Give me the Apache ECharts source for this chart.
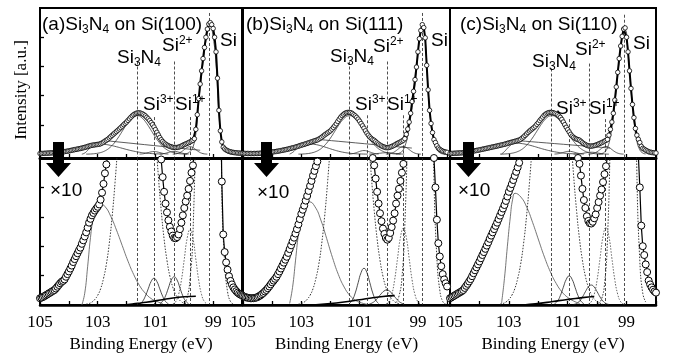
<!DOCTYPE html>
<html><head><meta charset="utf-8">
<script src="https://cdn.jsdelivr.net/npm/echarts@6/dist/echarts.min.js"></script>
<style>html,body{margin:0;padding:0;background:#fff}#c{width:673px;height:356px}</style>
</head><body><div id="c"></div>
<script>
// Binding energy grid (eV)
const energy = [105,104.95,104.9,104.85,104.8,104.75,104.7,104.65,104.6,104.55,
104.5,104.45,104.4,104.35,104.3,104.25,104.2,104.15,104.1,104.05,
104,103.95,103.9,103.85,103.8,103.75,103.7,103.65,103.6,103.55,
103.5,103.45,103.4,103.35,103.3,103.25,103.2,103.15,103.1,103.05,
103,102.95,102.9,102.85,102.8,102.75,102.7,102.65,102.6,102.55,
102.5,102.45,102.4,102.35,102.3,102.25,102.2,102.15,102.1,102.05,
102,101.95,101.9,101.85,101.8,101.75,101.7,101.65,101.6,101.55,
101.5,101.45,101.4,101.35,101.3,101.25,101.2,101.15,101.1,101.05,
101,100.95,100.9,100.85,100.8,100.75,100.7,100.65,100.6,100.55,
100.5,100.45,100.4,100.35,100.3,100.25,100.2,100.15,100.1,100.05,
100,99.95,99.9,99.85,99.8,99.75,99.7,99.65,99.6,99.55,
99.5,99.45,99.4,99.35,99.3,99.25,99.2,99.15,99.1,99.05,
99,98.95,98.9,98.85,98.8,98.75,98.7,98.65,98.6,98.55,
98.5,98.45,98.4,98.35,98.3,98.25,98.2,98.15,98.1,98.05,
98];

// measured intensity (a.u., x10 units: lower panel shows 0-5, upper 0-50)
const a_int = [0.23,0.25,0.27,0.30,0.33,0.36,0.39,0.42,0.45,0.48,
0.51,0.56,0.62,0.68,0.74,0.79,0.82,0.87,0.96,1.05,
1.14,1.24,1.34,1.46,1.56,1.66,1.76,1.86,1.95,2.08,
2.20,2.33,2.47,2.63,2.80,2.93,3.05,3.13,3.21,3.28,
3.34,3.42,3.58,3.82,4.12,4.48,4.78,5.10,5.55,6.00,
6.45,6.90,7.30,7.75,8.20,8.65,9.10,9.60,10.1,10.55,
11.0,11.55,12.1,12.65,13.15,13.55,13.85,14.05,14.15,14.15,
14.0,13.8,13.5,13.1,12.6,12.1,11.5,10.8,10.1,9.3,
8.4,7.5,6.6,5.7,4.95,4.35,3.85,3.45,3.15,2.88,
2.66,2.50,2.36,2.28,2.27,2.31,2.40,2.58,2.80,3.05,
3.30,3.52,3.72,3.95,4.22,4.50,4.75,5.30,8.5,13.5,
19,24,28.5,32.7,36.5,40,42.8,44.5,45,44.3,
43,40,35,26,15,8,4.2,2.4,1.8,1.45,
1.2,0.98,0.82,0.70,0.60,0.53,0.47,0.42,0.38,0.35,
0.33];
const b_int = [0.30,0.28,0.26,0.25,0.24,0.23,0.23,0.23,0.24,0.25,
0.27,0.30,0.33,0.37,0.41,0.46,0.51,0.57,0.63,0.70,
0.77,0.83,0.89,0.96,1.05,1.14,1.24,1.34,1.44,1.54,
1.64,1.77,1.90,2.03,2.16,2.29,2.43,2.58,2.74,2.92,
3.10,3.24,3.38,3.55,3.71,3.88,4.05,4.22,4.40,4.56,
4.72,4.88,5.15,5.45,5.8,6.2,6.6,6.95,7.3,7.65,
8.0,8.55,9.15,9.75,10.4,11.2,11.95,12.65,13.2,13.65,
14.0,14.2,14.3,14.3,14.2,13.9,13.5,13.1,12.6,12.0,
11.3,10.5,9.7,8.9,8.0,7.2,6.5,5.9,5.4,5.0,
4.75,4.3,3.85,3.45,3.12,2.85,2.6,2.42,2.28,2.22,
2.28,2.45,2.65,2.87,3.12,3.45,3.72,3.95,4.22,4.5,
4.8,5.3,6.8,8.6,11.0,14.0,18.0,21.5,25.5,29.8,
35.0,39.5,42.3,44.3,43.3,39.8,30.4,22.0,15.0,10.5,
7.4,5.0,4.0,2.9,2.1,1.65,1.32,1.05,0.87,0.74,
0.63];
const c_int = [0.23,0.26,0.29,0.32,0.35,0.38,0.41,0.44,0.47,0.51,
0.58,0.65,0.72,0.80,0.88,0.98,1.08,1.18,1.28,1.38,
1.48,1.59,1.70,1.80,1.91,2.02,2.13,2.25,2.36,2.47,
2.58,2.69,2.80,2.92,3.04,3.16,3.28,3.40,3.54,3.69,
3.85,3.98,4.11,4.25,4.39,4.53,4.68,4.84,5.1,5.5,
5.9,6.4,6.9,7.4,7.9,8.3,8.7,9.1,9.6,10.2,
10.8,11.5,12.1,12.7,13.3,13.7,14.0,14.2,14.3,14.3,
14.2,14.0,13.8,13.5,13.1,12.6,11.9,11.0,10.1,9.2,
8.4,7.6,6.8,6.2,5.75,5.4,5.15,5.0,4.8,4.4,
3.95,3.57,3.3,3.02,2.86,2.78,2.77,2.83,2.95,3.08,
3.3,3.5,3.72,3.93,4.18,4.45,4.72,5.05,6.5,8.5,
11,14,18.5,23,28,32.7,37,40.3,42.8,43.2,
40,35,28.5,22.5,17,12.5,8.8,6.5,5.1,4.0,
2.7,2.0,1.7,1.38,1.12,0.83,0.7,0.6,0.52,0.46,
0.42];

// fitted components [eV, intensity]
const a_N = [[103.4,.03],[103.3,.05],[103.2,.10],[103.1,.19],[103.0,.33],[102.9,.55],[102.8,.9],[102.7,1.39],[102.6,2.09],[102.5,3.01],[102.4,4.16],[102.3,5.52],[102.2,7.05],[102.1,8.65],[102.0,10.19],[101.9,11.53],[101.8,12.54],[101.7,13.1],[101.6,13.16],[101.5,12.7],[101.4,11.77],[101.3,10.48],[101.2,8.96],[101.1,7.37],[101.0,5.82],[100.9,4.41],[100.8,3.22],[100.7,2.25],[100.6,1.52],[100.5,.98],[100.4,.61],[100.3,.36],[100.2,.21],[100.1,.11],[100.0,.06],[99.9,.03]];
const b_N = [[103.1,.03],[103.0,.05],[102.9,.10],[102.8,.19],[102.7,.33],[102.6,.55],[102.5,.9],[102.4,1.39],[102.3,2.09],[102.2,3.01],[102.1,4.16],[102.0,5.52],[101.9,7.05],[101.8,8.65],[101.7,10.19],[101.6,11.53],[101.5,12.54],[101.4,13.1],[101.3,13.16],[101.2,12.7],[101.1,11.77],[101.0,10.48],[100.9,8.96],[100.8,7.37],[100.7,5.82],[100.6,4.41],[100.5,3.22],[100.4,2.25],[100.3,1.52],[100.2,.98],[100.1,.61],[100.0,.36],[99.9,.21],[99.8,.11],[99.7,.06],[99.6,.03]];
const c_N = [[103.3,.03],[103.2,.05],[103.1,.10],[103.0,.19],[102.9,.33],[102.8,.55],[102.7,.9],[102.6,1.39],[102.5,2.09],[102.4,3.01],[102.3,4.16],[102.2,5.52],[102.1,7.05],[102.0,8.65],[101.9,10.19],[101.8,11.53],[101.7,12.54],[101.6,13.1],[101.5,13.16],[101.4,12.7],[101.3,11.77],[101.2,10.48],[101.1,8.96],[101.0,7.37],[100.9,5.82],[100.8,4.41],[100.7,3.22],[100.6,2.25],[100.5,1.52],[100.4,.98],[100.3,.61],[100.2,.36],[100.1,.21],[100.0,.11],[99.9,.06],[99.8,.03]];
const a_C = [[103.55,0],[103.45,.4],[103.35,1.3],[103.25,2.3],[103.15,3.0],[103.05,3.35],[102.95,3.46],[102.75,3.35],[102.55,3.02],[102.35,2.55],[102.15,2.02],[101.95,1.49],[101.75,1.03],[101.55,.66],[101.35,.40],[101.15,.22],[100.95,.12],[100.75,.05]];
const b_C = [[103.4,.05],[103.3,.6],[103.2,1.5],[103.1,2.4],[103.0,3.0],[102.9,3.35],[102.8,3.49],[102.73,3.51],[102.53,3.34],[102.33,2.89],[102.13,2.26],[101.93,1.61],[101.73,1.04],[101.53,.61],[101.33,.32],[101.13,.15],[100.93,.07],[100.73,.02]];
const c_C = [[103.25,.05],[103.15,.9],[103.05,2.0],[102.95,3.0],[102.87,3.6],[102.79,3.8],[102.59,3.67],[102.39,3.32],[102.19,2.80],[101.99,2.21],[101.79,1.63],[101.59,1.13],[101.39,.73],[101.19,.44],[100.99,.25],[100.79,.13],[100.59,.05]];
const a_3 = [[101.55,.04],[101.45,.12],[101.35,.30],[101.25,.55],[101.15,.80],[101.05,.91],[100.95,.80],[100.85,.55],[100.75,.30],[100.65,.12],[100.55,.04]];
const b_3 = [[101.35,.05],[101.25,.17],[101.15,.41],[101.05,.76],[100.95,1.10],[100.85,1.25],[100.75,1.10],[100.65,.76],[100.55,.41],[100.45,.17],[100.35,.05]];
const c_3 = [[101.45,.04],[101.35,.13],[101.25,.32],[101.15,.60],[101.05,.87],[100.95,.99],[100.85,.87],[100.75,.60],[100.65,.32],[100.55,.13],[100.45,.04]];
const a_2 = [[100.85,.04],[100.75,.13],[100.65,.31],[100.55,.58],[100.45,.85],[100.35,.96],[100.25,.85],[100.15,.58],[100.05,.31],[99.95,.13],[99.85,.04]];
const b_2 = [[100.67,.03],[100.57,.07],[100.47,.14],[100.37,.25],[100.27,.37],[100.17,.47],[100.07,.51],[99.97,.47],[99.87,.37],[99.77,.25],[99.67,.14],[99.57,.07],[99.47,.03]];
const c_2 = [[100.8,.02],[100.7,.05],[100.6,.13],[100.5,.27],[100.4,.45],[100.3,.61],[100.2,.68],[100.1,.61],[100.0,.45],[99.9,.27],[99.8,.13],[99.7,.05],[99.6,.02]];
const a_1 = [[100.4,.03],[100.3,.11],[100.2,.35],[100.1,.84],[100.0,1.56],[99.9,2.27],[99.8,2.57],[99.7,2.27],[99.6,1.56],[99.5,.84],[99.4,.35],[99.3,.11],[99.2,.03]];
const b_1 = [[100.1,.03],[100.0,.11],[99.9,.35],[99.8,.85],[99.7,1.58],[99.6,2.30],[99.5,2.61],[99.4,2.30],[99.3,1.58],[99.2,.85],[99.1,.35],[99.0,.11],[98.9,.03]];
const c_1 = [[100.3,.03],[100.2,.11],[100.1,.36],[100.0,.86],[99.9,1.60],[99.8,2.33],[99.7,2.64],[99.6,2.33],[99.5,1.60],[99.4,.86],[99.3,.36],[99.2,.11],[99.1,.03]];
const a_0 = [[100.0,.06],[99.9,.25],[99.8,.9],[99.7,2.4],[99.6,7],[99.5,18],[99.4,27],[99.3,35],[99.2,41.5],[99.1,44],[99.0,40],[98.9,31],[98.8,14],[98.7,4],[98.6,1.4],[98.5,.45],[98.4,.12],[98.3,.03]];
const b_0 = [[99.75,.08],[99.65,.3],[99.55,.9],[99.45,2.7],[99.35,6.3],[99.25,12.5],[99.15,19.5],[99.05,28.5],[98.95,39],[98.85,44],[98.75,39],[98.65,21.5],[98.55,10],[98.45,4.3],[98.35,1.6],[98.25,.5],[98.15,.12],[98.05,.03]];
const c_0 = [[99.95,.05],[99.85,.2],[99.75,.7],[99.65,2.2],[99.55,6],[99.45,12.5],[99.35,22],[99.25,32],[99.15,40],[99.05,42.5],[98.95,35],[98.85,22],[98.75,11.5],[98.65,4.5],[98.55,1.5],[98.45,.4],[98.35,.1]];
const a_bg = [[102.1,0],[101.8,.03],[101.5,.07],[101.0,.14],[100.5,.22],[100.0,.28],[99.6,.3]];
const b_bg = [[102.6,0],[102.2,.03],[101.8,.07],[101.4,.12],[101.0,.18],[100.6,.24],[100.2,.29],[99.8,.32]];
const c_bg = [[102.5,0],[102.1,.04],[101.7,.09],[101.3,.15],[100.9,.2],[100.5,.25],[100.1,.29]];
const a_line = [[102.7,4.6],[99.45,1.35]];
const b_line = [[102.47,5.1],[99.21,2.1]];
const c_line = [[102.73,4.67],[99.56,2.1]];

// peak positions (Si3N4, Si3+, Si2+, Si1+, Si) and upper-panel marker heights
const a_pos = [101.64,101.05,100.36,99.8,99.13];
const b_pos = [101.35,100.74,100.05,99.5,98.85];
const c_pos = [101.57,100.95,100.27,99.72,99.09];
const a_hTop = [31.7,12.7,31.7,12.7,48.3];
const b_hTop = [31.7,13.3,31.7,13.3,48.3];
const c_hTop = [29.3,12,31,12,47.7];

const titles = ['(a)','(b)','(c)'];
const substrates = ['Si(100)','Si(111)','Si(110)'];
const xTicks = [98,99,100,101,102,103,104,105];
const xLabels = [99,101,103,105];
const yTicksTop = [10,20,30,40];
const yTicksBottom = [1,2,3,4];

const P = [
 {int:a_int,N:a_N,C:a_C,s3:a_3,s2:a_2,s1:a_1,s0:a_0,bg:a_bg,ln:a_line,pos:a_pos,hTop:a_hTop,xmin:98,left:40,width:202},
 {int:b_int,N:b_N,C:b_C,s3:b_3,s2:b_2,s1:b_1,s0:b_0,bg:b_bg,ln:b_line,pos:b_pos,hTop:b_hTop,xmin:97.9,left:243,width:207},
 {int:c_int,N:c_N,C:c_C,s3:c_3,s2:c_2,s1:c_1,s0:c_0,bg:c_bg,ln:c_line,pos:c_pos,hTop:c_hTop,xmin:98,left:450,width:206}
];

const grids=[], xAxes=[], yAxes=[], series=[];
[0,1].forEach(row=>{
  P.forEach((p,k)=>{
    const top = row===0;
    grids.push({left:p.left, width:p.width, top: top?8:158, height: top?150:147, show:true, borderColor:'#000', borderWidth:2, containLabel:false});
    const gi = grids.length-1;
    xAxes.push({type:'value', gridIndex:gi, min:p.xmin, max:105, inverse:true,
      axisLine:{show:true, onZero:false, lineStyle:{color:'#000', width:top?3:2.5}},
      axisTick:{show:true, inside:true, length:4, customValues:xTicks.filter(v=>v>=p.xmin), lineStyle:{color:'#000', width:1.3}},
      axisLabel:{show:!top, customValues:xLabels, margin:9, color:'#000', fontFamily:'Liberation Serif', fontSize:17},
      splitLine:{show:false},
      name: top?'':'Binding Energy (eV)', nameLocation:'middle', nameGap:31,
      nameTextStyle:{color:'#000', fontFamily:'Liberation Serif', fontSize:17}
    });
    yAxes.push({type:'value', gridIndex:gi, min: top?-1.3:0, max: top?50:5,
      axisLine:{show:true, onZero:false, lineStyle:{color:'#000', width:2}},
      axisTick:{show:k===0, inside:true, length:4, customValues: top?yTicksTop:yTicksBottom, lineStyle:{color:'#000', width:1.3}},
      axisLabel:{show:false}, splitLine:{show:false}
    });
    const thin=(data, style, z)=>({type:'line', xAxisIndex:gi, yAxisIndex:gi, data, smooth:true, symbol:'none', showSymbol:false, lineStyle:style, z:z||2, silent:true, clip:true});
    if(top){
      const st={color:'#333', width:0.8};
      [p.N,p.C,p.s3,p.s2,p.s1,p.s0].forEach(d=>series.push(thin(d,st)));
      series.push(thin(p.ln,{color:'#333', width:0.8}));
    } else {
      series.push(thin(p.C,{color:'#666', width:0.9}));
      series.push(thin(p.N,{color:'#222', width:0.9, type:[1.5,1.5]}));
      series.push(thin(p.s0,{color:'#222', width:0.9, type:[1.5,1.5]}));
      series.push(thin(p.s3,{color:'#222', width:0.8}));
      series.push(thin(p.s2,{color:'#222', width:0.8}));
      series.push(thin(p.s1,{color:'#555', width:0.9, type:[1.5,1.5]}));
      series.push(thin(p.bg,{color:'#000', width:1.6},3));
    }
    // dashed peak-position markers
    series.push({type:'line', xAxisIndex:gi, yAxisIndex:gi, data:[], silent:true, z:1,
      markLine:{silent:true, symbol:['none','none'], label:{show:false}, animation:false,
        lineStyle:{color:'#222', width:0.8, type:[3,2]},
        data: p.pos.map((e,i)=>[{coord:[e, top?p.hTop[i]:5]},{coord:[e, top?-1.3:0]}])}
    });
    // measured spectrum
    series.push({type:'line', xAxisIndex:gi, yAxisIndex:gi, data: energy.map((e,i)=>[e,p.int[i]]),
      symbol:'circle', symbolSize: top?4.5:7, showAllSymbol:true, clip:true, z:5, silent:true,
      itemStyle:{color:'#fff', borderColor:'#000', borderWidth: top?0.8:1},
      lineStyle:{color:'#000', width: top?2:1.2}
    });
  });
});

const rich = {
  m:{fontSize:19, fontFamily:'Liberation Sans', lineHeight:22, fill:'#000', color:'#000'},
  s:{fontSize:12, fontFamily:'Liberation Sans', lineHeight:12, verticalAlign:'bottom', fill:'#000', color:'#000'},
  p:{fontSize:12, fontFamily:'Liberation Sans', lineHeight:12, verticalAlign:'top', fill:'#000', color:'#000'}
};
function rtext(x,y,text){
  return {type:'text', x:x, y:y, z:100, silent:true,
    style:{text:text, rich:rich, align:'left', verticalAlign:'top', fill:'#000', font:'19px "Liberation Sans"'}};
}
const labelText = ['{m|Si}{s|3}{m|N}{s|4}','{m|Si}{p|3+}','{m|Si}{p|2+}','{m|Si}{p|1+}','{m|Si}'];
const titleX = [42,246,460];
const labelXY = [
  [[117,46.5],[143,94],[162,35],[175,94],[220,30]],
  [[330,45.5],[355,94],[373,35.5],[387,94],[431,30]],
  [[532,50.5],[556,97.5],[575,38.5],[589,97.5],[633,32.5]]
];
const arrowX = [58.5,266.5,468.5];
const tenXY = [[50,191],[257,193],[458,191]];
const graphic = [];
P.forEach((p,k)=>{
  graphic.push(rtext(titleX[k],13.5,'{m|'+titles[k]+'Si}{s|3}{m|N}{s|4}{m| on '+substrates[k]+'}'));
  labelXY[k].forEach((xy,i)=>graphic.push(rtext(xy[0],xy[1],labelText[i])));
  const cx = arrowX[k];
  graphic.push({type:'polygon', z:100, silent:true,
    shape:{points:[[cx-5.5,142],[cx+5.5,142],[cx+5.5,163],[cx+12.5,163],[cx,177],[cx-12.5,163],[cx-5.5,163]]},
    style:{fill:'#000'}});
  graphic.push({type:'text', x:tenXY[k][0], y:tenXY[k][1], z:100, silent:true,
    style:{text:'\u00d710', font:'19px "Liberation Sans"', fill:'#000', align:'left', verticalAlign:'middle'}});
});
graphic.push({type:'text', x:22, y:90, rotation:Math.PI/2, z:100, silent:true,
  style:{text:'Intensity [a.u.]', font:'17px "Liberation Serif"', fill:'#000', align:'center', verticalAlign:'middle'}});

const chart = echarts.init(document.getElementById('c'), null, {renderer:'canvas'});
chart.setOption({animation:false, backgroundColor:'#fff', grid:grids, xAxis:xAxes, yAxis:yAxes, series:series, graphic:graphic});
</script></body></html>
